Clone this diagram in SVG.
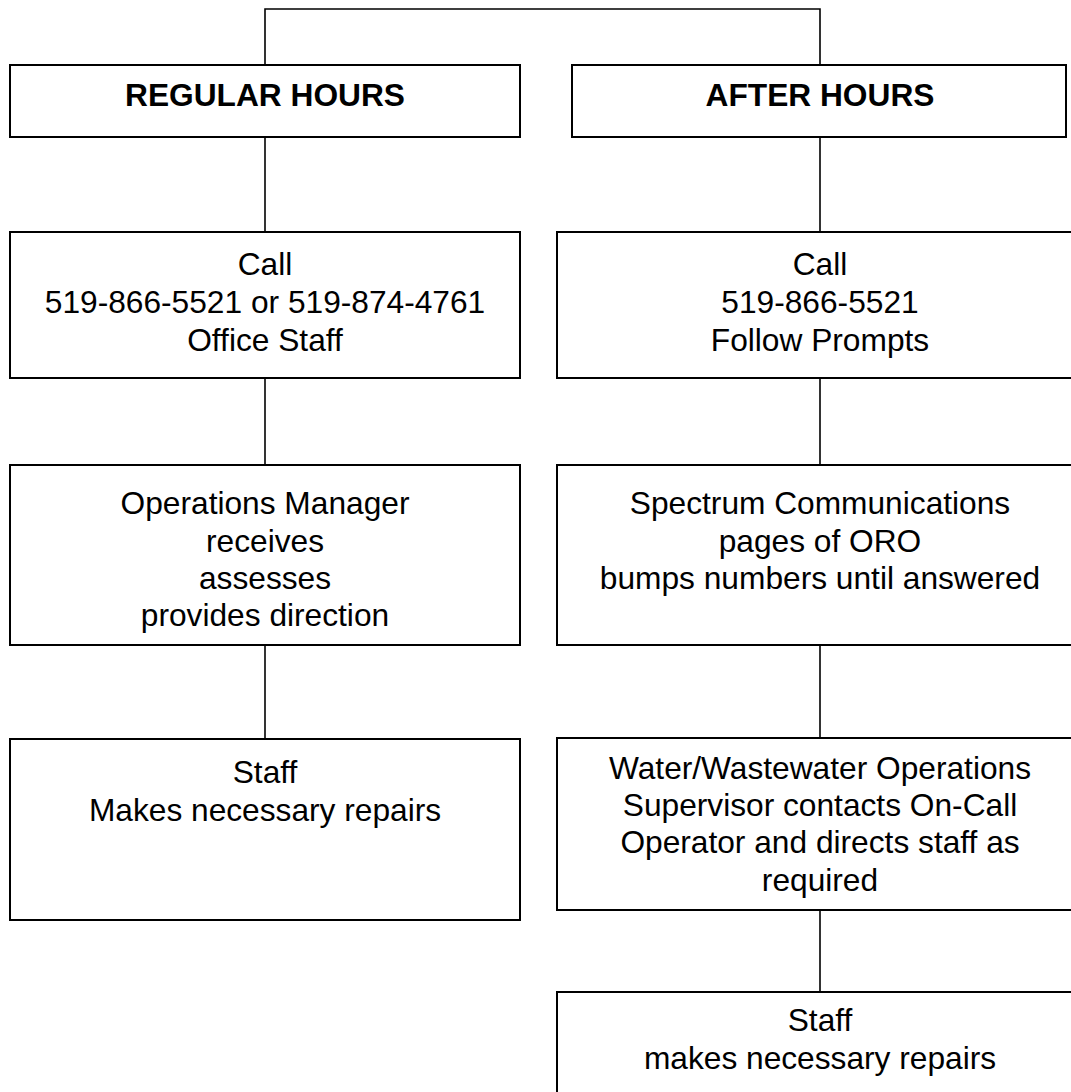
<svg xmlns="http://www.w3.org/2000/svg" width="1071" height="1092" viewBox="0 0 1071 1092">
<style>
.box{fill:#fff;stroke:#000;stroke-width:2}
.con{fill:none;stroke:#000;stroke-width:1.6}
text{font-family:"Liberation Sans",Arial,sans-serif;font-size:31.7px;fill:#000;text-anchor:middle}
.b{font-weight:bold}
</style>
<rect width="1071" height="1092" fill="#fff"/>
<g id="connectors">
<path class="con" d="M265 65 V9 H820 V65"/>
<path class="con" d="M265 137 V232"/>
<path class="con" d="M265 378 V465"/>
<path class="con" d="M265 645 V739"/>
<path class="con" d="M820 137 V232"/>
<path class="con" d="M820 378 V465"/>
<path class="con" d="M820 645 V738"/>
<path class="con" d="M820 910 V992"/>
</g>
<g id="regular-hours"><rect class="box" x="10" y="65" width="510" height="72"/><text class="b" x="265" y="106">REGULAR HOURS</text></g>
<g id="after-hours"><rect class="box" x="572" y="65" width="494" height="72"/><text class="b" x="820" y="106">AFTER HOURS</text></g>
<g id="call-regular"><rect class="box" x="10" y="232" width="510" height="146"/>
<text x="265" y="275">Call</text><text x="265" y="313">519-866-5521 or 519-874-4761</text><text x="265" y="351">Office Staff</text></g>
<g id="call-after"><rect class="box" x="557" y="232" width="530" height="146"/>
<text x="820" y="275">Call</text><text x="820" y="313">519-866-5521</text><text x="820" y="351">Follow Prompts</text></g>
<g id="ops-manager"><rect class="box" x="10" y="465" width="510" height="180"/>
<text x="265" y="514">Operations Manager</text><text x="265" y="552">receives</text><text x="265" y="589">assesses</text><text x="265" y="626">provides direction</text></g>
<g id="spectrum"><rect class="box" x="557" y="465" width="530" height="180"/>
<text x="820" y="514">Spectrum Communications</text><text x="820" y="552">pages of ORO</text><text x="820" y="589">bumps numbers until answered</text></g>
<g id="staff-regular"><rect class="box" x="10" y="739" width="510" height="181"/>
<text x="265" y="783">Staff</text><text x="265" y="821">Makes necessary repairs</text></g>
<g id="supervisor"><rect class="box" x="557" y="738" width="530" height="172"/>
<text x="820" y="779">Water/Wastewater Operations</text><text x="820" y="816">Supervisor contacts On-Call</text><text x="820" y="853">Operator and directs staff as</text><text x="820" y="891">required</text></g>
<g id="staff-after"><rect class="box" x="557" y="992" width="530" height="130"/>
<text x="820" y="1031">Staff</text><text x="820" y="1069">makes necessary repairs</text></g>
</svg>
